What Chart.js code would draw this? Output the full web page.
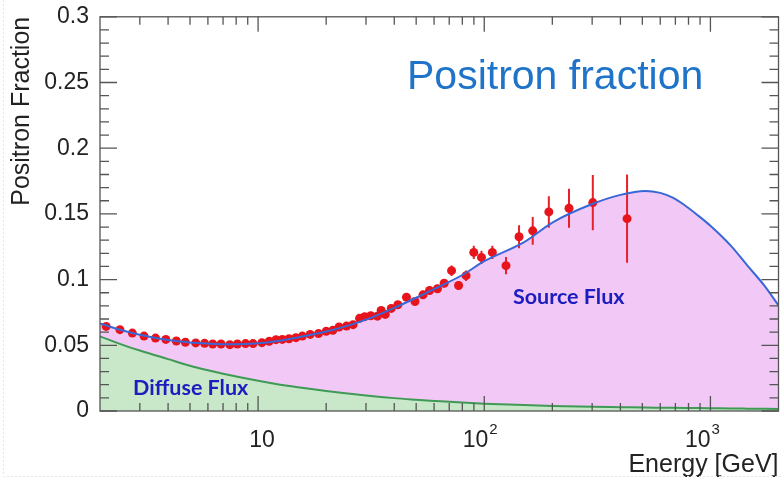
<!DOCTYPE html>
<html>
<head>
<meta charset="utf-8">
<script src="https://cdn.jsdelivr.net/npm/chart.js@4.4.1/dist/chart.umd.min.js"></script>
<style>
  html, body { margin: 0; padding: 0; background: #fff; }
  #wrap { width: 783px; height: 481px; position: relative; }
</style>
</head>
<body>
<div id="wrap"><canvas id="myChart"></canvas></div>
<script>
// measured positron fraction (energy in GeV)
const energies = [2.13, 2.45, 2.78, 3.13, 3.52, 3.91, 4.35, 4.77, 5.3, 5.8,
  6.3, 6.86, 7.5, 8.1, 8.8, 9.5, 10.4, 11.2, 12.0, 12.8,
  13.7, 14.7, 15.7, 17.0, 18.5, 20.0, 21.4, 22.8, 24.6, 26.3,
  28.1, 29.6, 31.5, 33.7, 35.0, 36.5, 38.8, 41.5, 45.3, 49.4,
  53.6, 57.3, 62.1, 66.5, 71.7, 77.0, 83.1, 89.9, 97.2, 108.6,
  124.8, 142.5, 163.8, 193, 237, 302, 428];
const fraction = [0.0644, 0.0619, 0.0593, 0.0570, 0.0555, 0.0545, 0.0533, 0.0523, 0.0518, 0.0515,
  0.0510, 0.0510, 0.0505, 0.0510, 0.0513, 0.0513, 0.0520, 0.0530, 0.0543, 0.0545,
  0.0550, 0.0558, 0.0570, 0.0583, 0.0589, 0.0606, 0.0614, 0.0639, 0.0646, 0.0657,
  0.0705, 0.0718, 0.0725, 0.0722, 0.0765, 0.0735, 0.0781, 0.0809, 0.0866, 0.0833,
  0.0884, 0.0917, 0.0930, 0.0972, 0.1068, 0.0955, 0.1030, 0.1207, 0.1169, 0.1207,
  0.1106, 0.1326, 0.1371, 0.1515, 0.1543, 0.1586, 0.1464];
const fractionErr = [0.001, 0.001, 0.001, 0.001, 0.001, 0.001, 0.001, 0.001, 0.001, 0.001,
  0.001, 0.001, 0.001, 0.001, 0.001, 0.001, 0.001, 0.001, 0.001, 0.001,
  0.001, 0.001, 0.001, 0.001, 0.001, 0.001, 0.0015, 0.0015, 0.0015, 0.0015,
  0.002, 0.002, 0.002, 0.002, 0.002, 0.002, 0.0025, 0.0025, 0.0025, 0.0025,
  0.003, 0.003, 0.003, 0.003, 0.004, 0.0035, 0.004, 0.005, 0.005, 0.005,
  0.0066, 0.0088, 0.0105, 0.012, 0.0148, 0.021, 0.0335];

// model: total fraction and the diffuse (secondary) part
const modelE = [2, 2.5, 3, 4, 5, 6, 7, 8, 10, 12, 15, 20, 25, 30, 40, 50, 60, 80, 100,
  150, 200, 300, 400, 515, 600, 681, 770, 886, 1000, 1236, 1452, 1749, 2000];
const totalFlux = [0.0667, 0.0615, 0.0580, 0.0540, 0.0522, 0.0513, 0.0508, 0.0508, 0.0515,
  0.0530, 0.0560, 0.0605, 0.0650, 0.0695, 0.0785, 0.0862, 0.0928, 0.1035, 0.1140,
  0.1285, 0.1434, 0.1575, 0.1645, 0.1675, 0.1660, 0.1624, 0.1566, 0.1485, 0.1410,
  0.1255, 0.1110, 0.0945, 0.0803];
const diffuseFlux = [0.0568, 0.0505, 0.0460, 0.0395, 0.0345, 0.0310, 0.0283, 0.0262, 0.0230,
  0.0205, 0.0180, 0.0152, 0.0133, 0.0118, 0.0098, 0.0086, 0.0077, 0.0064, 0.0056,
  0.0045, 0.0039, 0.0032, 0.0029, 0.0026, 0.0025, 0.0024, 0.0023, 0.0022, 0.0021,
  0.0019, 0.0018, 0.0017, 0.0016];

// decade labels: 10, 10^2, 10^3
const xMajor = [10, 100, 1000];
const xMajorExp = ['', '2', '3'];

const FONT = "'Liberation Sans', Arial, sans-serif";

// ROOT style frame with inward ticks on all four sides
const framePlugin = {
  id: 'frame',
  afterDatasetsDraw(chart) {
    const { ctx, chartArea: a, scales: { x, y } } = chart;
    ctx.save();
    ctx.strokeStyle = '#555';
    ctx.lineWidth = 1.3;
    ctx.strokeRect(a.left, a.top, a.right - a.left, a.bottom - a.top);
    ctx.beginPath();
    for (let i = 0; i <= 30; i++) {
      const py = y.getPixelForValue(i / 100);
      const len = i % 5 === 0 ? 17 : 9;
      ctx.moveTo(a.left, py); ctx.lineTo(a.left + len, py);
      ctx.moveTo(a.right, py); ctx.lineTo(a.right - len, py);
    }
    [1, 10, 100, 1000].forEach(d => {
      for (let m = 1; m <= 9; m++) {
        const v = m * d;
        if (v <= x.min || v >= x.max) continue;
        const px = x.getPixelForValue(v);
        const len = m === 1 ? 15 : 8;
        ctx.moveTo(px, a.bottom); ctx.lineTo(px, a.bottom - len);
        ctx.moveTo(px, a.top); ctx.lineTo(px, a.top + len);
      }
    });
    ctx.stroke();

    // x tick labels with a raised exponent
    ctx.fillStyle = '#222';
    ctx.textBaseline = 'alphabetic';
    ctx.textAlign = 'left';
    x.ticks.forEach(t => {
      const i = xMajor.indexOf(t.value);
      if (i < 0) return;
      const px = x.getPixelForValue(t.value);
      const exp = xMajorExp[i];
      ctx.font = '23px ' + FONT;
      const wb = ctx.measureText('10').width;
      ctx.font = '15px ' + FONT;
      const we = exp ? ctx.measureText(exp).width + 1 : 0;
      const left = px - (wb + we) / 2 + (exp ? (i === 2 ? -8 : -4) : 4);
      ctx.font = '23px ' + FONT;
      ctx.fillText('10', left, a.bottom + 36);
      if (exp) {
        ctx.font = '15px ' + FONT;
        ctx.fillText(exp, left + wb + 1, a.bottom + 23);
      }
    });
    ctx.restore();
  }
};

// vertical error bars, painted just before the markers
const errorBarPlugin = {
  id: 'errorBars',
  beforeDatasetDraw(chart, args) {
    if (args.index !== 2) return;
    const { ctx, scales: { x, y } } = chart;
    ctx.save();
    ctx.strokeStyle = '#e8202a';
    ctx.lineWidth = 2;
    ctx.beginPath();
    energies.forEach((e, i) => {
      const px = x.getPixelForValue(e);
      ctx.moveTo(px, y.getPixelForValue(fraction[i] - fractionErr[i]));
      ctx.lineTo(px, y.getPixelForValue(fraction[i] + fractionErr[i]));
    });
    ctx.stroke();
    ctx.restore();
  }
};

// slide title and region labels
const labelsPlugin = {
  id: 'labels',
  afterDraw(chart) {
    const { ctx } = chart;
    ctx.save();
    ctx.textBaseline = 'alphabetic';
    ctx.textAlign = 'left';
    ctx.fillStyle = '#1f74c9';
    ctx.font = '41px ' + FONT;
    ctx.fillText('Positron fraction', 407, 89);
    ctx.fillStyle = '#1c1cbf';
    ctx.font = "bold 21.5px Lato, 'Open Sans', sans-serif";
    ctx.fillText('Source Flux', 513, 304);
    ctx.fillText('Diffuse Flux', 133, 395);
    // faint page edge
    ctx.strokeStyle = '#e6e6e6';
    ctx.lineWidth = 1;
    ctx.setLineDash([2, 2]);
    ctx.beginPath();
    ctx.moveTo(3.5, 0); ctx.lineTo(3.5, 476.5); ctx.lineTo(783, 476.5);
    ctx.stroke();
    ctx.restore();
  }
};

const ctx = document.getElementById('myChart');

new Chart(ctx, {
  type: 'line',
  data: {
    datasets: [
      {
        label: 'Source Flux',
        data: modelE.map((e, i) => ({ x: e, y: totalFlux[i] })),
        borderColor: '#3a67d6',
        borderWidth: 2,
        backgroundColor: '#f1c8f6',
        fill: 'origin',
        pointRadius: 0,
        cubicInterpolationMode: 'monotone',
        order: 3
      },
      {
        label: 'Diffuse Flux',
        data: modelE.map((e, i) => ({ x: e, y: diffuseFlux[i] })),
        borderColor: '#3f9a55',
        borderWidth: 2,
        backgroundColor: '#c9e8c9',
        fill: 'origin',
        pointRadius: 0,
        cubicInterpolationMode: 'monotone',
        order: 2
      },
      {
        label: 'Data',
        data: energies.map((e, i) => ({ x: e, y: fraction[i] })),
        showLine: false,
        pointRadius: 4.5,
        pointBackgroundColor: '#e8141c',
        pointBorderWidth: 0,
        order: 4
      }
    ]
  },
  options: {
    responsive: true,
    maintainAspectRatio: false,
    animation: false,
    events: [],
    layout: { padding: { top: 15, right: 3, left: 0, bottom: 0 } },
    plugins: {
      legend: { display: false },
      tooltip: { enabled: false },
      filler: { drawTime: 'beforeDatasetsDraw' }
    },
    scales: {
      x: {
        type: 'logarithmic',
        min: 2,
        max: 2000,
        grid: { display: false },
        border: { display: false },
        afterBuildTicks: scale => {
          scale.ticks = xMajor.map(v => ({ value: v, major: true }));
        },
        afterFit: scale => { scale.height = 70; },
        ticks: { display: false },
        title: {
          display: true,
          text: 'Energy [GeV]',
          align: 'end',
          color: '#222',
          font: { family: FONT, size: 25 },
          padding: { top: 0, bottom: 1 }
        }
      },
      y: {
        min: 0,
        max: 0.3,
        grid: { display: false },
        border: { display: false },
        afterFit: scale => { scale.width = 100; },
        ticks: {
          stepSize: 0.05,
          autoSkip: false,
          padding: 3,
          color: '#222',
          font: { family: FONT, size: 23 },
          callback: value => String(+value.toFixed(2))
        },
        title: {
          display: true,
          text: 'Positron Fraction',
          align: 'end',
          color: '#222',
          font: { family: FONT, size: 25 },
          padding: { top: 7, bottom: 0 }
        }
      }
    }
  },
  plugins: [errorBarPlugin, framePlugin, labelsPlugin]
});
</script>
</body>
</html>
